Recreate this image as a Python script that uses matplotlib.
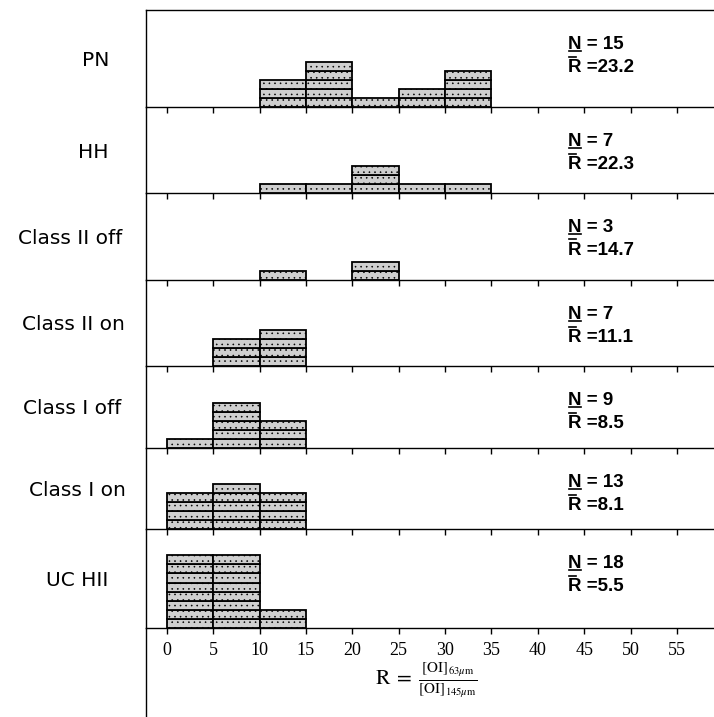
import matplotlib.pyplot as plt
from matplotlib.lines import Line2D
from matplotlib.font_manager import FontProperties

plt.rcParams['mathtext.fontset'] = 'stix'
plt.rcParams['hatch.linewidth'] = 0.4

# Source classes, top to bottom
classes = ['PN', 'HH', 'Class II off', 'Class II on', 'Class I off', 'Class I on', 'UC HII']
bin_left = [0, 5, 10, 15, 20, 25, 30]   # 5-wide bins of R
counts_pn = [0, 0, 3, 5, 1, 2, 4]
counts_hh = [0, 0, 1, 1, 3, 1, 1]
counts_c2off = [0, 0, 1, 0, 2, 0, 0]
counts_c2on = [0, 3, 4, 0, 0, 0, 0]
counts_c1off = [1, 5, 3, 0, 0, 0, 0]
counts_c1on = [4, 5, 4, 0, 0, 0, 0]
counts_uchii = [8, 8, 2, 0, 0, 0, 0]
all_counts = [counts_pn, counts_hh, counts_c2off, counts_c2on,
              counts_c1off, counts_c1on, counts_uchii]
n_obj = [15, 7, 3, 7, 9, 13, 18]
r_mean = [23.2, 22.3, 14.7, 11.1, 8.5, 8.1, 5.5]
x_ticks = [0, 5, 10, 15, 20, 25, 30, 35, 40, 45, 50, 55]

W, H = 714, 717
panel_px = [97, 86, 87, 86, 82, 81, 99]   # panel heights in pixels
unit_px = 9.1                             # pixels per object
top_px, left_px = 10, 146
label_x = [96, 93, 70, 73, 72, 77, 77]

fig = plt.figure(figsize=(W / 100, H / 100), dpi=100)
renderer = fig.canvas.get_renderer()
gs = fig.add_gridspec(len(classes), 1, height_ratios=panel_px, hspace=0,
                      left=left_px / W, right=1.0,
                      top=1 - top_px / H, bottom=1 - (top_px + sum(panel_px)) / H)

stat_fp = FontProperties(family='Liberation Sans', weight='bold', size=13.5)


def stat_line(x_px, base_px, letter, rest, under):
    """Draw e.g. 'N = 15' with a bar under (or over) the leading letter."""
    base = H - base_px
    fig.text(x_px / W, base / H, letter + rest, ha='left', va='baseline',
             fontproperties=stat_fp)
    w, cap, _ = renderer.get_text_width_height_descent(letter, stat_fp, ismath=False)
    if under:
        yy, xs = base - 2.0, (x_px + 1, x_px + w - 1)
    else:
        yy, xs = base + cap + 2.5, (x_px + 1, x_px + 0.6 * w)
    fig.add_artist(Line2D([xs[0] / W, xs[1] / W], [yy / H, yy / H],
                          color='black', linewidth=1.2))


y0 = top_px
for i, name in enumerate(classes):
    ax = fig.add_subplot(gs[i])
    ax.patch.set_visible(False)
    for xl, c in zip(bin_left, all_counts[i]):
        for k in range(c):
            ax.bar(xl, 1, width=5, bottom=k, align='edge', facecolor='#cfcfcf',
                   edgecolor='black', linewidth=1.3, hatch='...', zorder=2)
    ax.set_xlim(-2.25, 59.0)
    ax.set_ylim(0, panel_px[i] / unit_px)
    ax.set_yticks([])
    ax.set_xticks(x_ticks)
    ax.spines['right'].set_visible(False)
    ax.spines['top'].set_visible(i == 0)
    for s in ax.spines.values():
        s.set_linewidth(1.0)
    ax.tick_params(axis='x', direction='out', length=4, width=1.0, pad=6)
    if i < len(classes) - 1:
        ax.tick_params(labelbottom=False)
    else:
        for lab in ax.get_xticklabels():
            lab.set_fontfamily('Liberation Serif')
            lab.set_fontsize(13)

    yc = y0 + panel_px[i] / 2
    fig.text(label_x[i] / W, 1 - (yc + 2) / H, name, ha='center', va='center',
             fontsize=14.5, fontfamily='DejaVu Sans')
    stat_line(568, y0 + 39, 'N', f' = {n_obj[i]}', under=True)
    stat_line(568, y0 + 62, 'R', f' ={r_mean[i]}', under=False)
    y0 += panel_px[i]

# frame line continues below the last panel
xf = left_px / W
fig.add_artist(Line2D([xf, xf], [0, 1 - y0 / H], color='black', linewidth=1.0))

fig.text(426 / W, 1 - 680 / H,
         r'$\mathrm{R}\;=\;\frac{\left[\mathrm{OI}\right]_{63\mu\mathrm{m}}}'
         r'{\left[\mathrm{OI}\right]_{145\mu\mathrm{m}}}$',
         ha='center', va='center', fontsize=15.5)

fig.savefig('out.png', dpi=100)
